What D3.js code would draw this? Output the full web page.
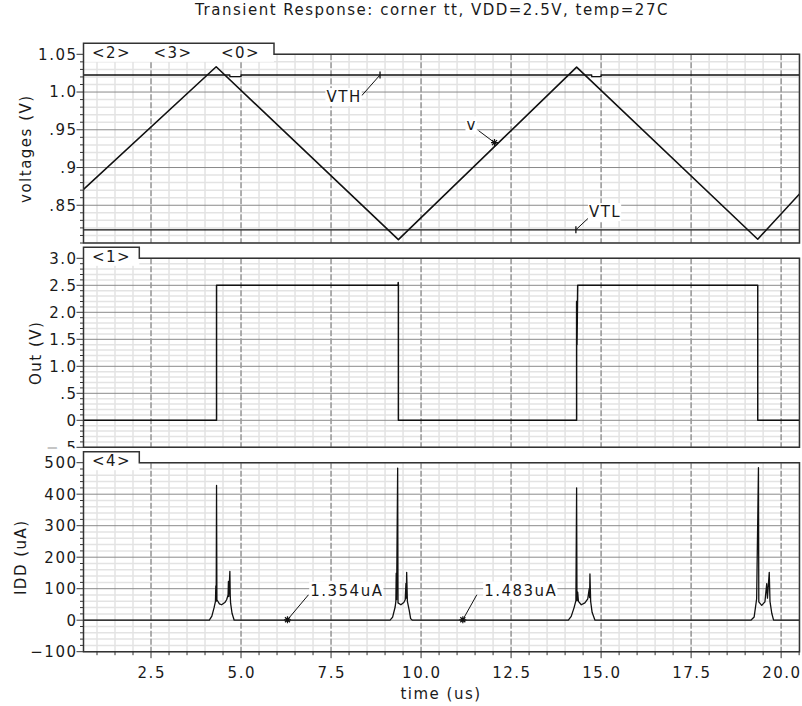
<!DOCTYPE html>
<html>
<head>
<meta charset="utf-8">
<script src="https://cdn.jsdelivr.net/npm/d3@7"></script>
<style>
  body { margin: 0; background: #fff; }
  text { font-family: "DejaVu Sans", sans-serif; font-size: 15px; letter-spacing: 1.5px; fill: #1a1a1a; }
</style>
</head>
<body>
<svg id="chart" width="802" height="706"></svg>
<script>
// ---- data ----
const titleText = "Transient Response: corner tt, VDD=2.5V, temp=27C";
const xTitle = "time (us)";

const xTicks = [2.5, 5, 7.5, 10, 12.5, 15, 17.5, 20];
const xTickLabels = ["2.5", "5.0", "7.5", "10.0", "12.5", "15.0", "17.5", "20.0"];

const voltTicks = [0.85, 0.9, 0.95, 1.0, 1.05];
const voltTickLabels = [".85", ".9", ".95", "1.0", "1.05"];
const outTicks = [-0.5, 0, 0.5, 1.0, 1.5, 2.0, 2.5, 3.0];
const outTickLabels = ["\u2212.5", "0", ".5", "1.0", "1.5", "2.0", "2.5", "3.0"];
const iddTicks = [-100, 0, 100, 200, 300, 400, 500];
const iddTickLabels = ["\u2212100", "0", "100", "200", "300", "400", "500"];

const voltTags = ["<2>", "<3>", "<0>"];
const outTags = ["<1>"];
const iddTags = ["<4>"];

// [time (us), value]
const vWave = [[0.625, 0.871], [4.31, 1.0335], [9.37, 0.8045], [14.32, 1.033], [19.35, 0.805], [20.51, 0.865]];
const vthWave = [[0.625, 1.0226], [4.69, 1.0226], [4.69, 1.0204], [5.0, 1.0204], [5.0, 1.0226],
  [14.74, 1.0226], [14.74, 1.0204], [15.0, 1.0204], [15.0, 1.0226], [20.51, 1.0226]];
const vtlWave = [[0.625, 0.8175], [20.51, 0.8175]];

const outWave = [[0.625, 0], [4.32, 0], [4.32, 2.5], [9.36, 2.5], [9.365, 2.55], [9.37, 2.5], [9.37, 0],
  [14.32, 0], [14.32, 2.2], [14.33, 1.4], [14.34, 2.2], [14.33, 1.4], [14.35, 2.5], [19.35, 2.5], [19.35, 0], [20.51, 0]];

const iddWave = [[0.625, 0], [4.12, 0], [4.19, 13], [4.25, 39], [4.29, 60], [4.30, 109], [4.31, 60], [4.32, 428], [4.33, 65],
  [4.40, 52], [4.46, 49], [4.55, 56], [4.60, 65], [4.64, 80], [4.65, 123], [4.66, 75], [4.69, 155], [4.70, 80], [4.71, 54], [4.75, 22], [4.81, 0],
  [9.14, 0], [9.21, 10], [9.28, 42], [9.30, 60], [9.31, 149], [9.32, 65], [9.35, 483], [9.36, 55], [9.44, 49], [9.52, 56],
  [9.56, 65], [9.58, 117], [9.59, 70], [9.60, 152], [9.62, 60], [9.67, 32], [9.71, 5], [9.76, 0],
  [14.09, 0], [14.17, 12], [14.25, 40], [14.30, 62], [14.32, 420], [14.33, 62], [14.35, 89], [14.37, 60], [14.45, 49],
  [14.55, 55], [14.63, 68], [14.67, 100], [14.68, 72], [14.69, 147], [14.71, 60], [14.75, 25], [14.83, 0],
  [19.16, 0], [19.25, 10], [19.32, 68], [19.37, 484], [19.38, 58], [19.46, 47], [19.55, 58], [19.60, 116], [19.62, 70],
  [19.67, 152], [19.69, 60], [19.74, 22], [19.79, 0], [20.51, 0]];

const annotText = ["VTH", "v", "VTL", "1.354uA", "1.483uA"];
const annotTime = [8.86, 12.04, 14.3, 6.29, 11.16];
const annotValue = [1.0226, 0.933, 0.8175, 1.354, 1.483];
const annotPanel = [0, 0, 0, 2, 2];
const annotShape = ["tick", "star", "tick", "star", "star"];

// ---- layout ----
const svg = d3.select("#chart");
const left = 83.5, right = 799.5;
const tabH = 11, tabCover = 18.5;

const x = d3.scaleLinear().domain([0.625, 20.51]).range([left, right]);

const panels = [
  { top: 54.3, bottom: 243, domain: [0.8, 1.05], minor: 0.01, ticks: voltTicks, labels: voltTickLabels,
    title: "voltages (V)", titleX: 26, tabRight: 274, tags: voltTags, tagX: [111.5, 173, 240.5],
    series: [vthWave, vtlWave, vWave], widths: [1.3, 1.3, 1.6] },
  { top: 258.3, bottom: 447.3, domain: [-0.5, 3.0], minor: 0.1, ticks: outTicks, labels: outTickLabels,
    title: "Out (V)", titleX: 36, tabRight: 139.3, tags: outTags, tagX: [111.5],
    series: [outWave], widths: [1.5] },
  { top: 462.7, bottom: 651.7, domain: [-100, 500], minor: 20, ticks: iddTicks, labels: iddTickLabels,
    title: "IDD (uA)", titleX: 21, tabRight: 139.3, tags: iddTags, tagX: [111.5],
    series: [iddWave], widths: [1.3] }
];

const minorX = d3.range(2, 42).map(i => i / 2).filter(t => t < 20.51 && !xTicks.includes(t));

svg.append("text")
  .attr("x", 432).attr("y", 15)
  .attr("text-anchor", "middle")
  .text(titleText);

panels.forEach((p, pi) => {
  const y = d3.scaleLinear().domain(p.domain).range([p.bottom, p.top]);
  p.y = y;
  const g = svg.append("g");
  const n = Math.round((p.domain[1] - p.domain[0]) / p.minor);
  const minorY = d3.range(0, n + 1).map(i => p.domain[0] + i * p.minor)
    .filter(v => !p.ticks.some(t => Math.abs(t - v) < p.minor / 10));

  // minor grid
  g.selectAll(".mh").data(minorY).enter().append("line")
    .attr("x1", left).attr("x2", right)
    .attr("y1", d => y(d)).attr("y2", d => y(d))
    .style("stroke", "#e3e3e3").style("stroke-width", 1.5);
  g.selectAll(".mv").data(minorX).enter().append("line")
    .attr("x1", d => x(d)).attr("x2", d => x(d))
    .attr("y1", p.top).attr("y2", p.bottom)
    .style("stroke", "#e3e3e3").style("stroke-width", 1.5);

  // major grid
  g.selectAll(".gh").data(p.ticks).enter().append("line")
    .attr("x1", left).attr("x2", right)
    .attr("y1", d => y(d)).attr("y2", d => y(d))
    .style("stroke", "#8a8a8a").style("stroke-width", 1);
  g.selectAll(".gv").data(xTicks).enter().append("line")
    .attr("x1", d => x(d)).attr("x2", d => x(d))
    .attr("y1", p.top).attr("y2", p.bottom)
    .style("stroke", "#9a9a9a").style("stroke-width", 1.6)
    .style("stroke-dasharray", "6,2");

  // tab
  const tabTop = p.top - tabH;
  g.append("rect")
    .attr("x", left).attr("y", tabTop)
    .attr("width", p.tabRight - left).attr("height", tabCover)
    .style("fill", "#fff");

  // waveforms
  const clipId = "clip" + pi;
  svg.append("clipPath").attr("id", clipId).append("rect")
    .attr("x", left).attr("y", p.top).attr("width", right - left).attr("height", p.bottom - p.top);
  const line = d3.line().x(d => x(d[0])).y(d => y(d[1]));
  p.series.forEach((s, si) => {
    g.append("path")
      .attr("d", line(s))
      .attr("clip-path", "url(#" + clipId + ")")
      .style("fill", "none").style("stroke", "#111")
      .style("stroke-width", p.widths[si]).style("stroke-linejoin", "round");
  });

  // frame
  g.append("path")
    .attr("d", `M${left},${p.bottom}V${tabTop}H${p.tabRight}V${p.top}H${right}V${p.bottom}Z`)
    .style("fill", "none").style("stroke", "#333").style("stroke-width", 1.5);

  // left axis
  const ag = g.append("g");
  if (pi < panels.length - 1) {
    const axClip = "axclip" + pi;
    svg.append("clipPath").attr("id", axClip).append("rect")
      .attr("x", 0).attr("y", tabTop - 8).attr("width", left + 2).attr("height", p.bottom - tabTop + 9);
    ag.attr("clip-path", "url(#" + axClip + ")");
  }
  ag.selectAll(".mt").data(minorY).enter().append("line")
    .attr("x1", left - 3.5).attr("x2", left)
    .attr("y1", d => y(d)).attr("y2", d => y(d))
    .style("stroke", "#333").style("stroke-width", 1);
  ag.selectAll(".tk").data(p.ticks).enter().append("line")
    .attr("x1", left - 7).attr("x2", left)
    .attr("y1", d => y(d)).attr("y2", d => y(d))
    .style("stroke", "#333").style("stroke-width", 1);
  ag.selectAll(".tl").data(p.ticks).enter().append("text")
    .attr("x", left - 6)
    .attr("y", d => y(d)).attr("dy", "0.36em")
    .attr("text-anchor", "end")
    .text((d, i) => p.labels[i]);

  svg.append("text")
    .attr("transform", `translate(${p.titleX},${(p.top + p.bottom) / 2}) rotate(-90)`)
    .attr("dy", "0.36em")
    .attr("text-anchor", "middle")
    .text(p.title);

  g.selectAll(".tag").data(p.tags).enter().append("text")
    .attr("x", (d, i) => p.tagX[i]).attr("y", tabTop + 14.2)
    .attr("text-anchor", "middle")
    .text(d => d);
});

// bottom x axis
const last = panels[panels.length - 1];
const xg = svg.append("g");
xg.selectAll(".xm").data(minorX).enter().append("line")
  .attr("x1", d => x(d)).attr("x2", d => x(d))
  .attr("y1", last.bottom).attr("y2", last.bottom + 3.5)
  .style("stroke", "#333").style("stroke-width", 1);
xg.selectAll(".xt").data(xTicks).enter().append("line")
  .attr("x1", d => x(d)).attr("x2", d => x(d))
  .attr("y1", last.bottom).attr("y2", last.bottom + 6.5)
  .style("stroke", "#333").style("stroke-width", 1);
xg.selectAll(".xl").data(xTicks).enter().append("text")
  .attr("x", d => x(d) + 0.75).attr("y", 678)
  .attr("text-anchor", "middle")
  .text((d, i) => xTickLabels[i]);
svg.append("text")
  .attr("x", 441).attr("y", 698.5)
  .attr("text-anchor", "middle")
  .text(xTitle);

// annotations (label offset and leader start, in px from the marker)
const labelOffset = [[-36.7, 21.7], [-23.6, -17.6], [28.4, -18.1], [58.6, -29.6], [57.2, -29.6]];
const leaderStart = [[-18.3, 20.7], [-16, -12], [12.5, -11.7], [21, -25], [14, -25]];
const ng = svg.append("g");
annotText.forEach((txt, i) => {
  const p = panels[annotPanel[i]];
  const mx = x(annotTime[i]), my = p.y(annotValue[i]);
  ng.append("line")
    .attr("x1", mx + leaderStart[i][0]).attr("y1", my + leaderStart[i][1])
    .attr("x2", mx).attr("y2", my)
    .style("stroke", "#111").style("stroke-width", 1);
  if (annotShape[i] === "tick") {
    ng.append("line")
      .attr("x1", mx).attr("x2", mx).attr("y1", my - 3.5).attr("y2", my + 3.5)
      .style("stroke", "#111").style("stroke-width", 1.3);
  } else {
    ng.append("path")
      .attr("d", `M${mx - 3.5},${my}H${mx + 3.5}M${mx},${my - 3.5}V${my + 3.5}` +
        `M${mx - 2.5},${my - 2.5}L${mx + 2.5},${my + 2.5}M${mx - 2.5},${my + 2.5}L${mx + 2.5},${my - 2.5}`)
      .style("stroke", "#111").style("stroke-width", 1.2);
  }
  const bg = ng.append("rect").style("fill", "#fff");
  const t = ng.append("text")
    .attr("x", mx + labelOffset[i][0] + 0.75).attr("y", my + labelOffset[i][1])
    .attr("dy", "0.36em")
    .attr("text-anchor", "middle")
    .text(txt);
  const b = t.node().getBBox();
  bg.attr("x", b.x - 1).attr("y", b.y).attr("width", b.width + 1).attr("height", b.height);
});
</script>
</body>
</html>
